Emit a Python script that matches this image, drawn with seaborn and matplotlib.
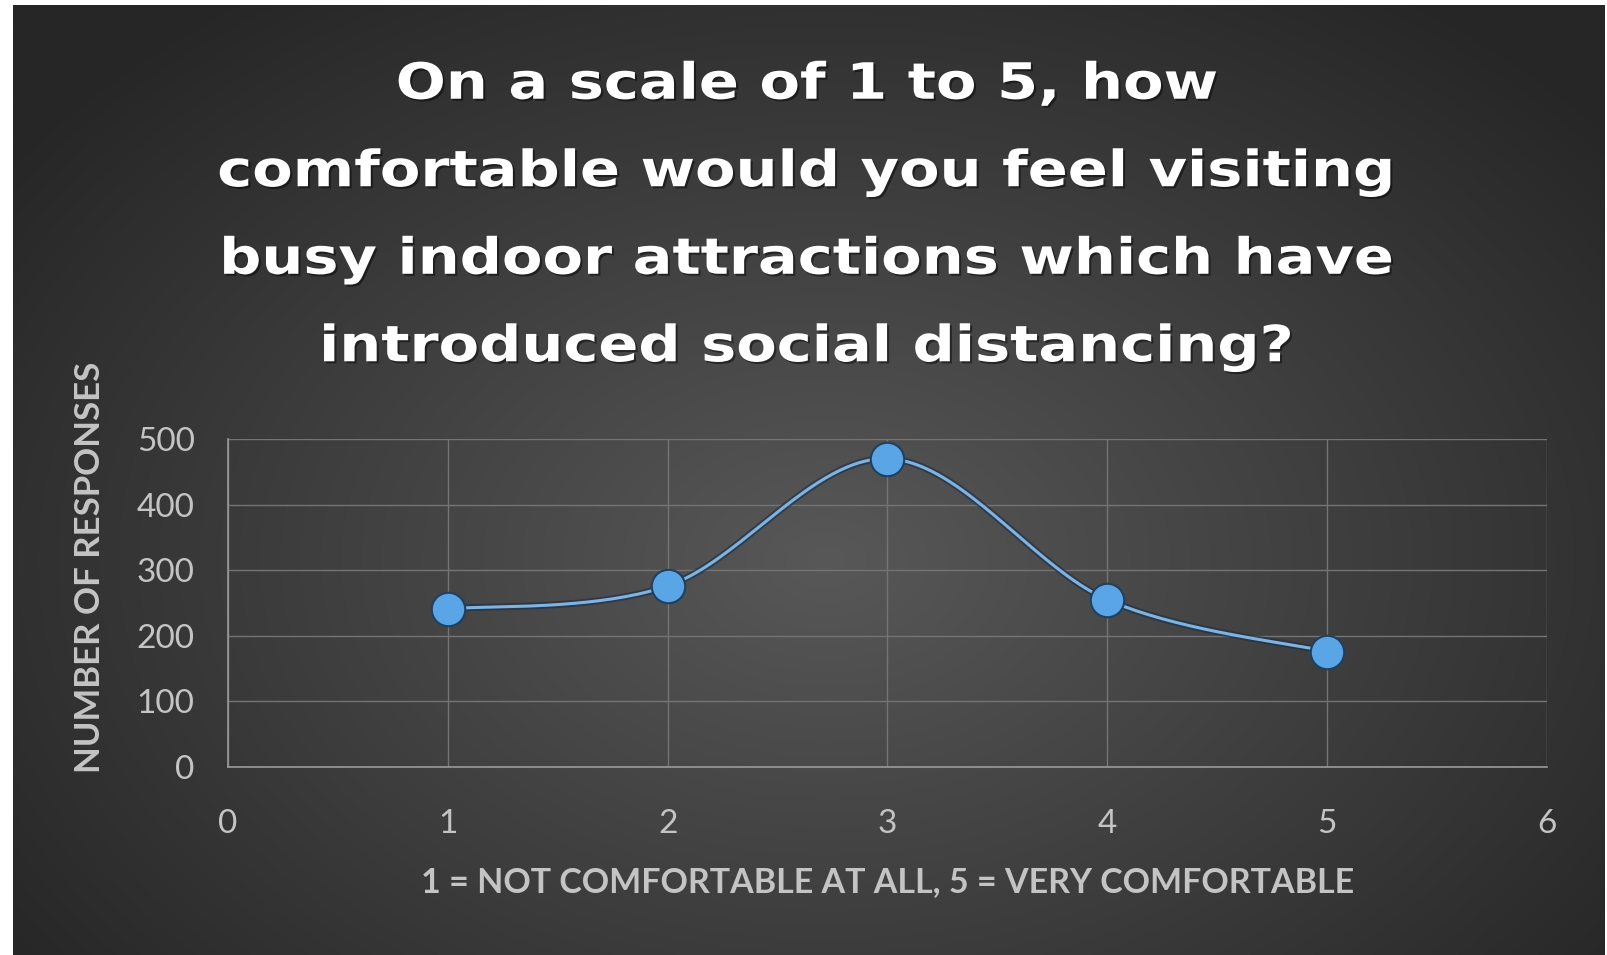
import numpy as np
import matplotlib
matplotlib.use("Agg")
import matplotlib.pyplot as plt
import matplotlib.patheffects as pe
from matplotlib.colors import to_rgba
from matplotlib.transforms import Affine2D
import seaborn as sns
import pandas as pd

# Survey responses per comfort rating
ratings = [1, 2, 3, 4, 5]
responses = [241, 276, 470, 255, 176]

title = ("On a scale of 1 to 5, how\n"
         "comfortable would you feel visiting\n"
         "busy indoor attractions which have\n"
         "introduced social distancing?")
x_label = "1 = NOT COMFORTABLE AT ALL, 5 = VERY COMFORTABLE"
y_label = "NUMBER OF RESPONSES"
x_ticks = [0, 1, 2, 3, 4, 5, 6]
y_ticks = [0, 100, 200, 300, 400, 500]

sns.set_theme(style="dark")
plt.rcParams["font.family"] = ["Lato", "DejaVu Sans"]

W, H = 1608, 955
fig = plt.figure(figsize=(W / 100, H / 100), dpi=100, facecolor="white")


class StretchX(pe.AbstractPathEffect):
    """Draws text glyphs widened horizontally about a fixed x (pixels)."""

    def __init__(self, sx, cx, offset=(0, 0), shadow=None, alpha=None):
        super().__init__(offset=offset)
        self.sx, self.cx = sx, cx
        self.shadow = None if shadow is None else to_rgba(shadow)
        self.alpha = alpha

    def draw_path(self, renderer, gc, tpath, affine, rgbFace=None):
        ox = renderer.points_to_pixels(self._offset[0])
        oy = renderer.points_to_pixels(self._offset[1])
        aff = affine + Affine2D().translate(-self.cx, 0).scale(self.sx, 1) \
            .translate(self.cx + ox, oy)
        gc0 = renderer.new_gc()
        gc0.copy_properties(gc)
        if self.shadow is not None:
            rgbFace = self.shadow
            gc0.set_foreground(self.shadow)
            gc0.set_alpha(self.alpha)
        renderer.draw_path(gc0, tpath, aff, rgbFace)
        gc0.restore()


# Radial dark-grey backdrop
bg = fig.add_axes([13 / W, 0, (W - 16) / W, (H - 5) / H], zorder=-10)
gy, gx = np.mgrid[0:300, 0:500]
cx, cy = 255, 175
r = np.sqrt(((gx - cx) / 330) ** 2 + ((gy - cy) / 230) ** 2)
val = np.clip(88 - 52 * r, 38, 88) / 255
bg.imshow(np.dstack([val, val, val]), aspect="auto", extent=[0, 1, 0, 1],
          interpolation="bilinear")
bg.set_axis_off()

ax = fig.add_axes([228 / W, (H - 767) / H, 1319 / W, 328 / H])
ax.set_facecolor((0, 0, 0, 0))

df = pd.DataFrame({"rating": ratings, "responses": responses})


def smooth(xs, ys, n=40):
    """Bezier smoothing through every point (Catmull-Rom tangents)."""
    p = np.column_stack([xs, ys]).astype(float)
    ext = np.vstack([p[0], p, p[-1]])
    out = []
    for i in range(len(p) - 1):
        p0, p1, p2, p3 = ext[i], ext[i + 1], ext[i + 2], ext[i + 3]
        c1 = p1 + (p2 - p0) / 6
        c2 = p2 - (p3 - p1) / 6
        t = np.linspace(0, 1, n)[:, None]
        seg = ((1 - t) ** 3) * p1 + 3 * ((1 - t) ** 2) * t * c1 \
            + 3 * (1 - t) * t ** 2 * c2 + t ** 3 * p2
        out.append(seg if i == 0 else seg[1:])
    return np.vstack(out)


curve = smooth(df["rating"], df["responses"])
blue = "#5aa5e6"
line_fx = [pe.Stroke(linewidth=5, foreground=(0.1, 0.18, 0.28, 0.6)), pe.Normal()]
sns.lineplot(x=curve[:, 0], y=curve[:, 1], ax=ax, color="#7fb3e0", lw=2.2,
             sort=False, zorder=3, path_effects=line_fx)
sns.scatterplot(data=df, x="rating", y="responses", ax=ax, s=580, color=blue,
                edgecolor="#20405f", linewidth=1.5, zorder=4)

ax.set_xlim(0, 6)
ax.set_ylim(0, 500)
ax.set_xticks(x_ticks)
ax.set_yticks(y_ticks)
ax.grid(True, color="#747474", lw=1.0)
for s in ["top", "right"]:
    ax.spines[s].set_visible(False)
for s in ["left", "bottom"]:
    ax.spines[s].set_visible(True)
    ax.spines[s].set_color("#9a9a9a")
    ax.spines[s].set_linewidth(1.2)
ax.tick_params(axis="both", colors="#c4c4c4", labelsize=24, length=0)
ax.tick_params(axis="x", pad=30)
ax.tick_params(axis="y", pad=24)
ax.set_xlabel("")
ax.set_ylabel("")

fig.text(888 / W, 1 - 882 / H, x_label, ha="center", va="center",
         color="#c4c4c4", fontsize=24.5, fontweight="bold")
fig.text(90 / W, 1 - 567 / H, y_label, ha="center", va="center", rotation=90,
         color="#c4c4c4", fontsize=25, fontweight="bold")

tx = 807
fig.text(tx / W, 1 - 216 / H, title, ha="center", va="center",
         color="white", fontsize=36, fontweight="bold", linespacing=2.04,
         family=["DejaVu Sans"],
         path_effects=[StretchX(1.18, tx, offset=(1.5, -1.5), shadow="black", alpha=0.45),
                       StretchX(1.18, tx)])

fig.savefig("out.png", dpi=100, facecolor="white")
